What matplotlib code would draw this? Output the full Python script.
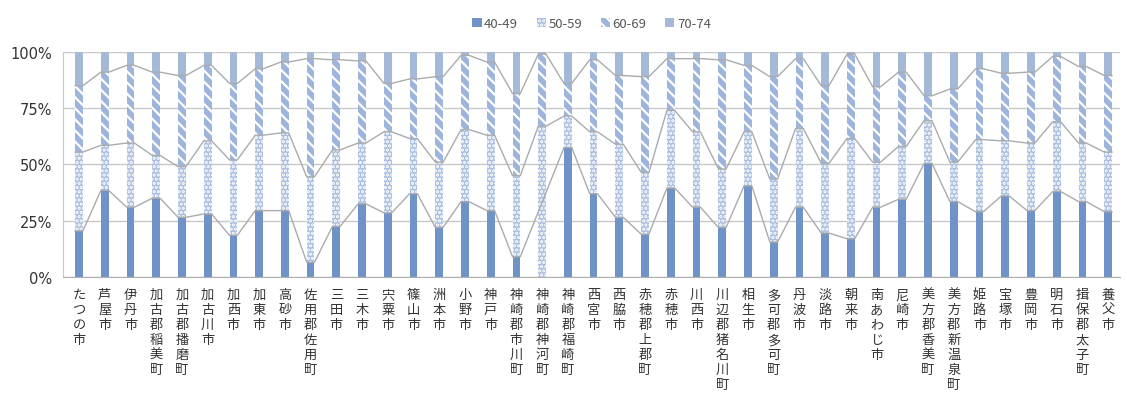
import numpy as np
import matplotlib
matplotlib.use('Agg')
import matplotlib.pyplot as plt

plt.rcParams['font.family'] = ['Noto Sans CJK JP', 'DejaVu Sans']
plt.rcParams['hatch.linewidth'] = 1.6

# ========== データ（各年齢階級の構成比 %） ==========
cities = ['たつの市', '芦屋市', '伊丹市', '加古郡稲美町', '加古郡播磨町', '加古川市',
          '加西市', '加東市', '高砂市', '佐用郡佐用町', '三田市', '三木市', '宍粟市',
          '篠山市', '洲本市', '小野市', '神戸市', '神崎郡市川町', '神崎郡神河町',
          '神崎郡福崎町', '西宮市', '西脇市', '赤穂郡上郡町', '赤穂市', '川西市',
          '川辺郡猪名川町', '相生市', '多可郡多可町', '丹波市', '淡路市', '朝来市',
          '南あわじ市', '尼崎市', '美方郡香美町', '美方郡新温泉町', '姫路市', '宝塚市',
          '豊岡市', '明石市', '揖保郡太子町', '養父市']

age_40_49 = [20.5, 38.5, 31, 35, 26.5, 28, 18.5, 29.5, 29.5, 6.5, 22.5, 32.5, 28.5,
             37, 22, 33.5, 29.5, 9, np.nan, 57.5, 37, 26.5, 19, 39.5, 31,
             22, 40.5, 15.5, 31, 19.5, 17, 31, 34.5, 50.5, 33.5, 29, 36,
             29.5, 38, 33.5, 29]
age_50_59 = [35, 20, 28.5, 19, 22.5, 32.5, 33.5, 33.5, 34.5, 38, 34, 27, 36,
             24.5, 29, 32, 33.5, 36, 67, 14, 27.5, 32.5, 27.5, 34.5, 33.5,
             26, 24, 28, 35, 31, 44.5, 20, 23.5, 19, 17.5, 32, 24.5,
             30, 31, 26, 26.5]
age_60_69 = [29.5, 32.5, 34.5, 37, 40.5, 33.5, 34, 29.5, 31.5, 52.5, 40, 36.5, 21.5,
             26.5, 38, 33, 32.5, 36.5, 32, 14.5, 32, 30.5, 42.5, 23, 32.5,
             48.5, 29.5, 45.5, 31, 34.5, 37.5, 33.5, 33, 11, 32.5, 31.5, 30,
             31.5, 29, 34, 34]
age_70_74 = [15, 9, 6, 9, 10.5, 6, 14, 7.5, 4.5, 3, 3.5, 4, 14,
             12, 11, 1.5, 4.5, 18.5, 1, 14, 3.5, 10.5, 11, 3, 3,
             3.5, 6, 11, 3, 15, 1, 15.5, 9, 19.5, 16.5, 7.5, 9.5,
             9, 2, 6.5, 10.5]

labels = ['40-49', '50-59', '60-69', '70-74']
series = [age_40_49, age_50_59, age_60_69, age_70_74]
face_colors = ['#7093c7', '#a9bee0', '#9db5dc', '#a4b8d8']
hatches = [None, '....', '\\\\\\', None]

# ========== 描画 ==========
fig = plt.figure(figsize=(11.27, 4.10), dpi=100)
ax = fig.add_axes([0.056, 0.322, 0.938, 0.549])

x = np.arange(len(cities))
width = 0.3
bottom = np.zeros(len(cities))
tops = []
for vals, lab, fc, h in zip(series, labels, face_colors, hatches):
    v = np.nan_to_num(np.array(vals, dtype=float))
    ax.bar(x, v, width, bottom=bottom, color=fc, hatch=h,
           edgecolor='white' if h else fc, linewidth=0, label=lab, zorder=2)
    bottom = bottom + v
    top = bottom.copy()
    top[np.isnan(np.array(vals, dtype=float))] = np.nan
    tops.append(top)

# 系列線（隣り合う棒の同じ境界をつなぐ）
for top in tops[:3]:
    idx = np.where(~np.isnan(top))[0]
    xs, ys = [], []
    for i in idx:
        xs += [x[i] - width / 2, x[i] + width / 2]
        ys += [top[i], top[i]]
    ax.plot(xs, ys, color='#ababab', linewidth=1.0, zorder=3)

ax.set_ylim(0, 100)
ax.set_xlim(-0.62, 40.47)
ax.set_yticks([0, 25, 50, 75, 100])
ax.set_yticklabels(['0%', '25%', '50%', '75%', '100%'], fontsize=10.5, color='#333333',
                   family=['DejaVu Sans'])
ax.yaxis.grid(True, color='#c8c8c8', linewidth=1.0, zorder=0)
ax.set_axisbelow(True)
ax.tick_params(axis='y', length=0, pad=8)
ax.tick_params(axis='x', length=0, pad=8)
ax.set_xticks(x)
ax.set_xticklabels(['\n'.join(c) for c in cities], fontsize=9.5, color='#333333',
                   va='top', linespacing=1.2)
for s in ['top', 'right']:
    ax.spines[s].set_visible(False)
ax.spines['left'].set_color('#c8c8c8')
ax.spines['bottom'].set_color('#b0b0b0')

fig.legend(loc='upper center', bbox_to_anchor=(0.525, 0.985), ncol=4, frameon=False,
           fontsize=9.5, handlelength=0.7, handleheight=0.7, handletextpad=0.2,
           columnspacing=1.4, labelcolor='#555555')

fig.savefig('out.png', dpi=100)
